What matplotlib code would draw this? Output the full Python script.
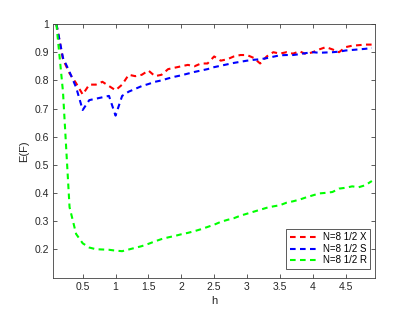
import matplotlib
matplotlib.use("Agg")
import matplotlib.pyplot as plt
import numpy as np

plt.rcParams['font.family'] = ['Liberation Sans', 'DejaVu Sans']

h = np.round(np.arange(0.1, 4.95, 0.1), 2)

x_vals = [1.0, 0.875, 0.825, 0.79, 0.75, 0.785, 0.785, 0.795, 0.78, 0.765,
          0.785, 0.82, 0.815, 0.82, 0.835, 0.815, 0.82, 0.84, 0.845, 0.85,
          0.855, 0.85, 0.86, 0.86, 0.885, 0.87, 0.875, 0.885, 0.89, 0.89,
          0.88, 0.86, 0.885, 0.9, 0.895, 0.9, 0.895, 0.903, 0.893, 0.9,
          0.91, 0.918, 0.91, 0.9, 0.918, 0.923, 0.925, 0.927, 0.927]

s_vals = [1.0, 0.88, 0.83, 0.775, 0.695, 0.73, 0.735, 0.74, 0.745, 0.675,
          0.745, 0.76, 0.77, 0.78, 0.787, 0.795, 0.80, 0.807, 0.813, 0.818,
          0.824, 0.83, 0.835, 0.84, 0.847, 0.852, 0.857, 0.862, 0.866, 0.87,
          0.873, 0.875, 0.879, 0.884, 0.889, 0.89, 0.89, 0.893, 0.897, 0.9,
          0.898, 0.899, 0.9, 0.902, 0.906, 0.908, 0.91, 0.912, 0.915]

r_vals = [1.0, 0.76, 0.35, 0.255, 0.222, 0.207, 0.201, 0.200, 0.199, 0.196,
          0.194, 0.200, 0.206, 0.212, 0.220, 0.229, 0.237, 0.243, 0.248, 0.254,
          0.259, 0.265, 0.272, 0.280, 0.288, 0.298, 0.305, 0.311, 0.320, 0.327,
          0.334, 0.341, 0.348, 0.353, 0.357, 0.366, 0.371, 0.377, 0.385, 0.392,
          0.399, 0.401, 0.404, 0.416, 0.419, 0.424, 0.421, 0.428, 0.443]

labels = ['N=8 1/2 X', 'N=8 1/2 S', 'N=8 1/2 R']
colors = ['#ff0000', '#0000ff', '#00ff00']

fig = plt.figure(figsize=(4.15, 3.12), dpi=100)
ax = fig.add_axes([0.128, 0.110, 0.776, 0.813])

for vals, lab, col in zip([x_vals, s_vals, r_vals], labels, colors):
    ax.plot(h, vals, linestyle=(0, (2.7, 2.1)), color=col, linewidth=1.5, label=lab)

ax.set_xlim(0.05, 4.95)
ax.set_ylim(0.1, 1.0)
ax.set_xticks([0.5, 1, 1.5, 2, 2.5, 3, 3.5, 4, 4.5])
ax.set_xticklabels(['0.5', '1', '1.5', '2', '2.5', '3', '3.5', '4', '4.5'])
ax.set_yticks([0.2, 0.3, 0.4, 0.5, 0.6, 0.7, 0.8, 0.9, 1.0])
ax.set_yticklabels(['0.2', '0.3', '0.4', '0.5', '0.6', '0.7', '0.8', '0.9', '1'])
ax.tick_params(direction='in', length=3, width=0.6, top=True, right=True,
               labelsize=7.5, colors='#404040', labelcolor='#262626', pad=3)
for sp in ax.spines.values():
    sp.set_color('#404040')
    sp.set_linewidth(0.6)

ax.set_xlabel('h', fontsize=8, color='#262626', labelpad=3)
ax.set_ylabel('E(F)', fontsize=8, color='#262626', labelpad=4)

leg = ax.legend(loc='lower right', bbox_to_anchor=(0.985, 0.035), borderaxespad=0,
                fontsize=7, handlelength=3.0, handletextpad=0.4, labelspacing=0.15,
                borderpad=0.35, fancybox=False, framealpha=1)
leg.get_frame().set_edgecolor('#404040')
leg.get_frame().set_linewidth(0.6)

fig.savefig('out.png', dpi=100)
